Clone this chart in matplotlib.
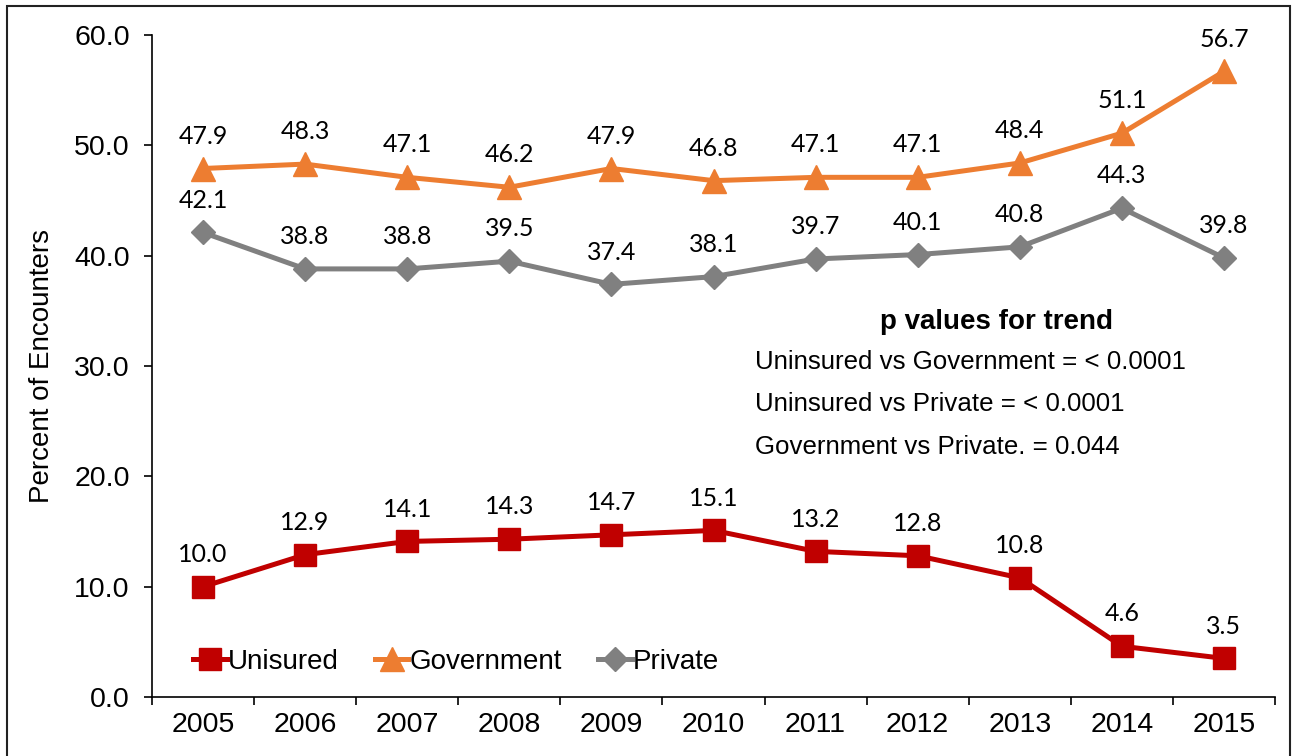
import matplotlib
matplotlib.use("Agg")
import matplotlib.pyplot as plt
from matplotlib.patches import Rectangle
import numpy as np

years = ["2005", "2006", "2007", "2008", "2009", "2010", "2011", "2012", "2013", "2014", "2015"]
unisured = [10.0, 12.9, 14.1, 14.3, 14.7, 15.1, 13.2, 12.8, 10.8, 4.6, 3.5]
government = [47.9, 48.3, 47.1, 46.2, 47.9, 46.8, 47.1, 47.1, 48.4, 51.1, 56.7]
private = [42.1, 38.8, 38.8, 39.5, 37.4, 38.1, 39.7, 40.1, 40.8, 44.3, 39.8]
yticks = [0, 10, 20, 30, 40, 50, 60]
ptext_title = "p values for trend"
ptext_lines = ["Uninsured vs Government = < 0.0001",
               "Uninsured vs Private = < 0.0001",
               "Government vs Private. = 0.044"]

W, H = 1293, 756
fig = plt.figure(figsize=(W / 100, H / 100), dpi=100)
ax = fig.add_axes([152 / W, 1 - 697 / H, (1275 - 152) / W, (697 - 35) / H])

arial = ["Liberation Sans", "DejaVu Sans"]
x = np.arange(len(years))
c_red, c_or, c_gr = "#C00000", "#ED7D31", "#808080"
lw = 3.6
ax.plot(x, unisured, color=c_red, lw=lw, marker="s", ms=16, label="Unisured", zorder=3)
ax.plot(x, government, color=c_or, lw=lw, marker="^", ms=17, label="Government", zorder=3)
ax.plot(x, private, color=c_gr, lw=lw, marker="D", ms=12, label="Private", zorder=3)

lab_font = dict(family=["Lato", "DejaVu Sans"], fontsize=18, color="#000000", ha="center", va="bottom")
for series in (unisured, government, private):
    for xi, v in zip(x, series):
        ax.annotate(f"{v:.1f}", (xi, v), xytext=(0, 15), textcoords="offset points", **lab_font)

ax.set_xlim(-0.5, len(years) - 0.5)
ax.set_ylim(0, 60)
ax.set_yticks(yticks)
ax.set_yticklabels([f"{t:.1f}" for t in yticks])
ax.set_xticks(x)
ax.set_xticklabels(years)
ax.set_xticks(np.arange(-0.5, len(years)), minor=True)
ax.tick_params(axis="x", which="major", length=0, pad=11)
ax.tick_params(axis="x", which="minor", length=6, width=1.2, direction="out")
ax.tick_params(axis="y", length=6, width=1.2, direction="out", pad=10)
for lab in ax.get_xticklabels() + ax.get_yticklabels():
    lab.set_family(arial)
    lab.set_fontsize(20.5)
for s in ("top", "right"):
    ax.spines[s].set_visible(False)
for s in ("left", "bottom"):
    ax.spines[s].set_linewidth(1.2)

ax.set_ylabel("Percent of Encounters", family=arial, fontsize=20, labelpad=14)

leg = ax.legend(loc="center left", bbox_to_anchor=(0.027, (697 - 662) / 662), ncol=3, frameon=False,
                handlelength=1.2, handletextpad=0.05, columnspacing=1.3, borderaxespad=0,
                prop={"family": arial, "size": 20})

fig.text(996 / W, 1 - 322 / H, ptext_title, ha="center", va="center", fontsize=20,
         fontweight="bold", family=arial)
for i, line in enumerate(ptext_lines):
    fig.text(755 / W, 1 - (362 + 42.5 * i) / H, line, ha="left", va="center", fontsize=18.6,
             family=arial)

fig.patches.append(Rectangle((7 / W, -0.1), (1290 - 7) / W, 1.1 - 6 / H, transform=fig.transFigure,
                             fill=False, ec="#222222", lw=1.5, clip_on=False))

fig.savefig("out.png", dpi=100)
